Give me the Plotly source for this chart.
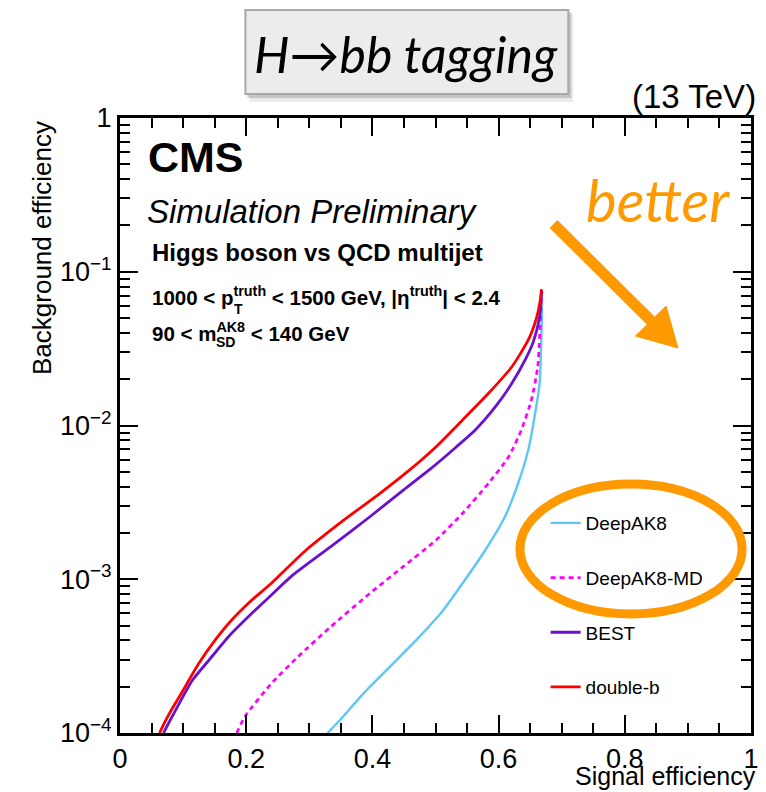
import plotly.graph_objects as go

# ROC curves: signal (H->bb) efficiency vs background (QCD multijet) efficiency
deepak8_sig = [0.329, 0.349, 0.386, 0.428, 0.469, 0.490, 0.511, 0.543, 0.579, 0.610, 0.631, 0.647, 0.657, 0.665, 0.668, 0.669]
deepak8_bkg = [1.0e-4, 1.22e-4, 1.81e-4, 2.70e-4, 4.0e-4, 4.95e-4, 6.2e-4, 9.42e-4, 1.55e-3, 2.55e-3, 4.21e-3, 6.93e-3, 1.141e-2, 1.88e-2, 3.98e-2, 7.5e-2]

deepak8md_sig = [0.185, 0.198, 0.240, 0.282, 0.334, 0.396, 0.449, 0.501, 0.543, 0.584, 0.616, 0.636, 0.652, 0.662, 0.667, 0.668]
deepak8md_bkg = [1.0e-4, 1.28e-4, 2.10e-4, 3.13e-4, 4.91e-4, 8.10e-4, 1.21e-3, 1.80e-3, 2.69e-3, 4.21e-3, 6.27e-3, 9.35e-3, 1.466e-2, 2.41e-2, 5.64e-2, 7.5e-2]

best_sig = [0.069, 0.080, 0.094, 0.115, 0.141, 0.172, 0.209, 0.240, 0.271, 0.334, 0.396, 0.449, 0.490, 0.532, 0.563, 0.595, 0.621, 0.642, 0.655, 0.665, 0.668]
best_bkg = [1.0e-4, 1.22e-4, 1.56e-4, 2.21e-4, 2.98e-4, 4.23e-4, 6.00e-4, 7.9e-4, 1.04e-3, 1.63e-3, 2.55e-3, 3.80e-3, 5.14e-3, 7.2e-3, 9.35e-3, 1.325e-2, 1.88e-2, 2.67e-2, 3.5e-2, 5.1e-2, 7.5e-2]

doubleb_sig = [0.0626, 0.073, 0.085, 0.094, 0.125, 0.151, 0.177, 0.209, 0.240, 0.292, 0.355, 0.412, 0.459, 0.501, 0.543, 0.584, 0.621, 0.647, 0.660, 0.666, 0.668]
doubleb_bkg = [1.0e-4, 1.22e-4, 1.50e-4, 1.72e-4, 2.84e-4, 4.03e-4, 5.43e-4, 7.33e-4, 9.42e-4, 1.51e-3, 2.43e-3, 3.62e-3, 5.14e-3, 7.28e-3, 1.087e-2, 1.62e-2, 2.41e-2, 3.60e-2, 5.0e-2, 6.5e-2, 7.7e-2]

x_tickvals = [0, 0.2, 0.4, 0.6, 0.8, 1.0]
x_ticktext = ["0", "0.2", "0.4", "0.6", "0.8", "1"]
y_tickvals = [1e-4, 1e-3, 1e-2, 1e-1, 1]
y_ticktext = ["10<sup>−4</sup>", "10<sup>−3</sup>", "10<sup>−2</sup>", "10<sup>−1</sup>", "1"]
y_minor = [k * 10.0 ** e for e in range(-4, 0) for k in range(2, 10)]

W, H = 766, 792
L, R, T, B = 120, 7, 118, 59
PW, PH = W - L - R, H - T - B

def px(x):
    return (x - L) / PW

def py(y):
    return (H - B - y) / PH

FONT = "Liberation Sans, Arial, Helvetica, sans-serif"
HUM = "Lato, Open Sans, sans-serif"
ORANGE = "#ff9900"

fig = go.Figure()

series = [
    ("DeepAK8", deepak8_sig, deepak8_bkg, "#5ec6f8", "solid", 2.4),
    ("DeepAK8-MD", deepak8md_sig, deepak8md_bkg, "#ff00ff", "5px,4px", 2.7),
    ("BEST", best_sig, best_bkg, "#6a10d0", "solid", 2.8),
    ("double-b", doubleb_sig, doubleb_bkg, "#ff0000", "solid", 2.8),
]
for name, xs, ys, col, dash, w in series:
    fig.add_trace(go.Scatter(
        x=xs, y=ys, mode="lines", name=name, legendgroup=name,
        line=dict(color=col, width=w, dash=dash, shape="spline", smoothing=0.6),
    ))

axis_common = dict(
    showgrid=False, zeroline=False, showline=True, linecolor="black", linewidth=3,
    mirror="allticks", ticks="inside", ticklen=18, tickwidth=2, tickcolor="black",
    tickfont=dict(family=FONT, size=27, color="black"),
)
fig.update_xaxes(
    range=[0, 1], tickmode="array", tickvals=x_tickvals, ticktext=x_ticktext,
    minor=dict(ticks="inside", ticklen=10, tickwidth=2, tickcolor="black", dtick=0.05, showgrid=False),
    **axis_common,
)
fig.update_yaxes(
    type="log", range=[-4, 0], tickmode="array", tickvals=y_tickvals, ticktext=y_ticktext,
    minor=dict(ticks="inside", ticklen=10, tickwidth=2, tickcolor="black", tickmode="array",
               tickvals=y_minor, showgrid=False),
    **axis_common,
)

shapes = [
    # title box shadow and box
    dict(type="rect", xref="paper", yref="paper", x0=px(251), x1=px(579), y0=py(14), y1=py(102),
         fillcolor="rgba(0,0,0,0.08)", line=dict(width=0), layer="above"),
    dict(type="rect", xref="paper", yref="paper", x0=px(249), x1=px(577), y0=py(12), y1=py(98),
         fillcolor="rgba(0,0,0,0.16)", line=dict(width=0), layer="above"),
    dict(type="rect", xref="paper", yref="paper", x0=px(247), x1=px(574), y0=py(10), y1=py(94),
         fillcolor="#ececec", line=dict(color="#a8a8a8", width=2), layer="above"),
    # "better" arrow
    dict(type="line", xref="paper", yref="paper", x0=px(559), y0=py(224), x1=px(662), y1=py(325),
         line=dict(color=ORANGE, width=11), layer="above"),
    dict(type="path", xref="paper", yref="paper",
         path=f"M {px(685)},{py(348)} L {px(673)},{py(306)} L {px(642)},{py(336)} Z",
         fillcolor=ORANGE, line=dict(color=ORANGE, width=1), layer="above"),
    # highlight around the DeepAK8 legend entries
    dict(type="circle", xref="paper", yref="paper", x0=px(525), x1=px(750), y0=py(484), y1=py(614),
         line=dict(color=ORANGE, width=9), layer="above"),
]

def note(text, x, y, size, xanchor="left", yanchor="middle", family=FONT, color="black", angle=0):
    return dict(text=text, x=px(x), y=py(y), xref="paper", yref="paper", showarrow=False,
                xanchor=xanchor, yanchor=yanchor, textangle=angle,
                font=dict(family=family, size=size, color=color))

annotations = [
    note("<i>H→bb tagging</i>", 410, 54, 50, xanchor="center", family=HUM),
    note("(13 TeV)", 766, 97, 33, xanchor="right"),
    note("<b>CMS</b>", 146, 157, 43),
    note("<i>Simulation Preliminary</i>", 145, 211, 33),
    note("<b>Higgs boson vs QCD multijet</b>", 150, 253, 24),
    note("<b>1000 &lt; p<sup>truth</sup> &lt; 1500 GeV, |η<sup>truth</sup>| &lt; 2.4</b>", 150, 296, 20.5),
    note("<b>T</b>", 240, 309, 14, xanchor="center"),
    note("<b>90 &lt; m<sup>AK8</sup> &lt; 140 GeV</b>", 150, 332, 20.5),
    note("<b>SD</b>", 227, 342, 14, xanchor="center"),
    note("<i>better</i>", 665, 199, 58, xanchor="center", family=HUM, color=ORANGE),
    note("Background efficiency", 41, 248, 26, xanchor="center", angle=-90),
    note("Signal efficiency", 766, 792, 25, xanchor="right", yanchor="bottom"),
]

fig.update_layout(
    width=W, height=H,
    margin=dict(l=L, r=R, t=T, b=B),
    paper_bgcolor="white", plot_bgcolor="white",
    showlegend=True,
    legend=dict(
        x=px(551), y=py(504), xanchor="left", yanchor="top",
        bgcolor="rgba(0,0,0,0)", borderwidth=0,
        font=dict(family=FONT, size=19, color="black"),
        tracegroupgap=27, itemwidth=30, traceorder="grouped",
    ),
    shapes=shapes,
    annotations=annotations,
)

fig.write_html("out.html")
